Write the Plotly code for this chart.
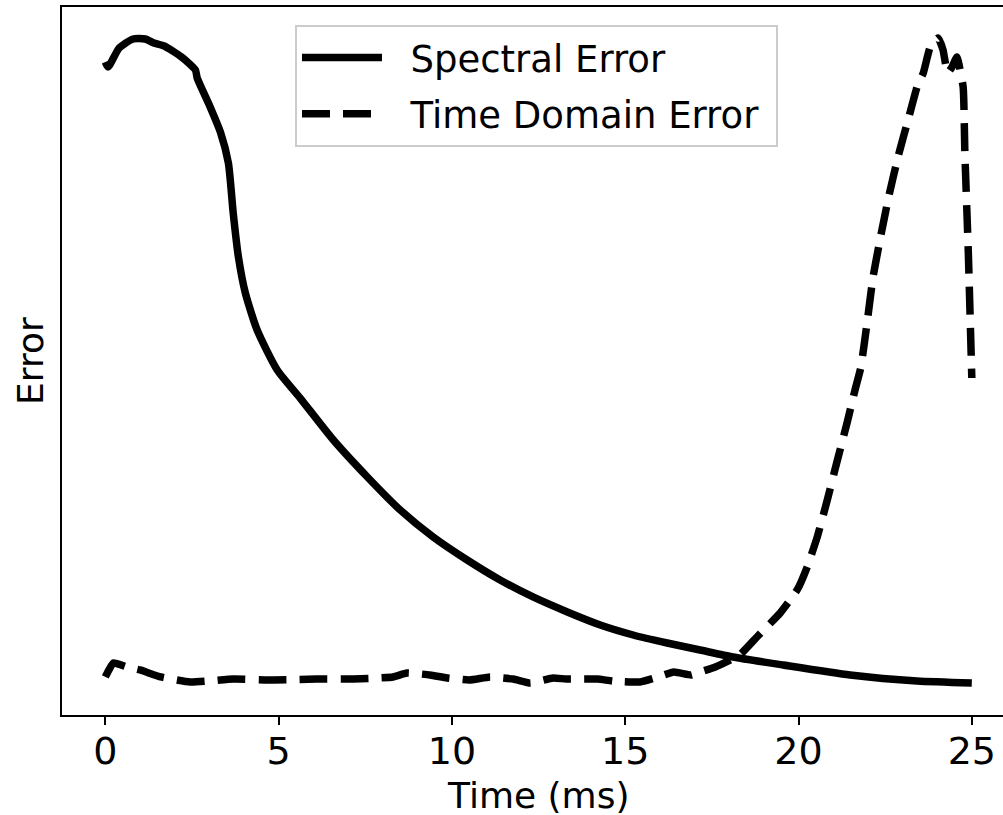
import plotly.graph_objects as go

# Spectral error (arbitrary units, 0..100 of axis height)
spec_t = [0.0, 0.08, 0.4, 0.8, 1.15, 1.4, 1.7, 2.2, 2.6, 2.65, 3.0, 3.32, 3.55, 3.69, 3.84, 4.04, 4.38,
          4.96, 5.62, 6.58, 7.56, 8.51, 9.46, 10.44, 11.39, 12.34, 13.33, 14.28, 15.23, 16.21,
          17.16, 18.11, 19.56, 21.49, 23.42, 25.0]
spec_px = [62, 67, 48, 39, 39, 43, 46, 57, 70, 78, 105, 132, 163, 213, 257, 293, 330,
           370, 398, 440, 477, 510, 537, 560, 580, 597, 612, 625, 635, 643,
           650, 657, 665, 675, 681, 683]
spec_err = [round((715 - p) / 7.08, 2) for p in spec_px]

# Time domain error
td_t = [0.0, 0.23, 0.63, 1.0, 1.6, 2.45, 3.7, 4.85, 6.1, 7.15, 8.3, 8.7, 9.37, 9.86, 10.5,
        11.1, 11.77, 12.26, 12.92, 13.3, 14.2, 14.65, 15.43, 15.86, 16.4, 16.9, 17.16, 17.6,
        18.3, 18.8, 19.47, 19.96, 20.25, 20.54, 20.83, 21.1, 21.4, 21.63, 21.8, 22.0, 22.15,
        22.35, 22.6, 22.87, 23.2, 23.42, 23.6, 23.8, 24.03, 24.17, 24.3, 24.43, 24.57, 24.75,
        24.8, 24.9, 25.0]
td_px = [677, 663, 667, 670, 677, 682, 679, 680, 679, 679, 677, 673, 675, 678, 680,
         677, 679, 683, 678, 679, 679, 681, 682, 678, 672, 675, 672, 667,
         655, 637, 613, 590, 567, 537, 500, 463, 423, 390, 367, 317, 277,
         240, 197, 157, 115, 87, 73, 47, 38, 50, 73, 67, 57, 87,
         153, 253, 378]
td_err = [round((715 - p) / 7.08, 2) for p in td_px]

x_ticks = [0, 5, 10, 15, 20, 25]
x_title = "Time (ms)"
y_title = "Error"

FONT = "DejaVu Sans"
NB = "\u00a0"

fig = go.Figure()
fig.add_trace(go.Scatter(x=spec_t, y=spec_err, mode="lines", name=NB * 2 + "Spectral Error",
                         legendgroup="a",
                         line=dict(color="black", width=7.5, shape="spline", smoothing=0.6)))
fig.add_trace(go.Scatter(x=td_t, y=td_err, mode="lines", name=NB * 2 + "Time Domain Error" + NB,
                         legendgroup="b",
                         line=dict(color="black", width=7.5, dash="28px,13px",
                                   shape="spline", smoothing=0.4)))

fig.update_layout(
    width=1003, height=815,
    margin=dict(l=62, r=0, t=7, b=100),
    paper_bgcolor="white", plot_bgcolor="white",
    font=dict(family=FONT, size=36, color="black"),
    xaxis=dict(range=[-1.25, 25.9], tickvals=x_ticks, ticks="outside", ticklen=8,
               tickwidth=2, tickcolor="black", showline=True, linecolor="black",
               linewidth=2, mirror=True, showgrid=False, zeroline=False,
               ticklabelstandoff=-7, automargin=False,
               tickfont=dict(size=38)),
    yaxis=dict(range=[0, 100], showticklabels=False, ticks="", showline=True,
               linecolor="black", linewidth=2, showgrid=False, zeroline=False,
               automargin=False),
    legend=dict(x=0.2476, y=0.9746, xanchor="left", yanchor="top",
                bordercolor="#cccccc", borderwidth=2, bgcolor="white",
                font=dict(size=37), itemwidth=80, tracegroupgap=5),
    annotations=[
        dict(text=x_title, xref="paper", yref="paper", x=0.5058, y=-0.113,
             xanchor="center", yanchor="middle", showarrow=False, borderpad=0,
             font=dict(size=36)),
        dict(text=y_title, xref="paper", yref="paper", x=-0.034, y=0.5,
             xanchor="center", yanchor="middle", showarrow=False, borderpad=0,
             textangle=-90, font=dict(size=36)),
    ],
)

fig.write_html("out.html")
